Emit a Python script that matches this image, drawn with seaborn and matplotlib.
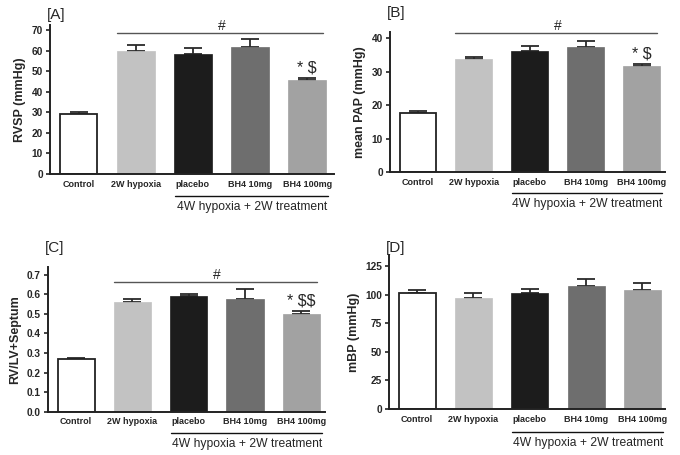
import matplotlib
matplotlib.use("Agg")
import matplotlib.pyplot as plt
import seaborn as sns
import pandas as pd

sns.set_style("white")
plt.rcParams['font.family'] = ['Liberation Sans', 'DejaVu Sans']
plt.rcParams['text.parse_math'] = False

categories = ["Control", "2W hypoxia", "placebo", "BH4 10mg", "BH4 100mg"]
colors = ["#ffffff", "#c2c2c2", "#1c1c1c", "#6e6e6e", "#a2a2a2"]

rvsp = [29.3, 59.8, 58.3, 61.6, 45.6]
rvsp_err = [0.8, 2.9, 2.8, 3.9, 1.3]

pap = [17.8, 33.9, 36.3, 37.3, 31.7]
pap_err = [0.4, 0.6, 1.4, 1.8, 0.7]

rvlv = [0.267, 0.560, 0.588, 0.577, 0.501]
rvlv_err = [0.006, 0.017, 0.014, 0.050, 0.014]

mbp = [101.6, 97.7, 102.1, 108.0, 104.5]
mbp_err = [2.9, 3.9, 3.3, 5.9, 5.9]

panels = [
    dict(label="[A]", ylabel="RVSP (mmHg)", vals=rvsp, errs=rvsp_err,
         yticks=[0, 10, 20, 30, 40, 50, 60, 70], ytl=None, ylim=(0, 72.5),
         pos_px=(50, 174, 284, 149), hash_y=68.5, marks="* $", xlim=(-0.5, 4.47),
         label_y=1.02),
    dict(label="[B]", ylabel="mean PAP (mmHg)", vals=pap, errs=pap_err,
         yticks=[0, 10, 20, 30, 40], ytl=None, ylim=(0, 42),
         pos_px=(390, 172.3, 275, 140.6), hash_y=41.6, marks="* $", xlim=(-0.5, 4.42),
         label_y=1.08),
    dict(label="[C]", ylabel="RV/LV+Septum", vals=rvlv, errs=rvlv_err,
         yticks=[0, 0.1, 0.2, 0.3, 0.4, 0.5, 0.6, 0.7],
         ytl=["0.0", "0.1", "0.2", "0.3", "0.4", "0.5", "0.6", "0.7"], ylim=(0, 0.74),
         pos_px=(48, 411.7, 277, 145), hash_y=0.664, marks="* $$", xlim=(-0.5, 4.42),
         label_y=1.08),
    dict(label="[D]", ylabel="mBP (mmHg)", vals=mbp, errs=mbp_err,
         yticks=[0, 25, 50, 75, 100, 125], ytl=None, ylim=(0, 135),
         pos_px=(389, 409, 276, 154), hash_y=None, marks=None, xlim=(-0.5, 4.4),
         label_y=1.0),
]

W, H = 680, 455
fig = plt.figure(figsize=(6.8, 4.55), dpi=100)

for p in panels:
    left, base, width, height = p["pos_px"]
    ax = fig.add_axes([left / W, (H - base) / H, width / W, height / H])
    df = pd.DataFrame({"group": categories, "value": p["vals"]})
    sns.barplot(data=df, x="group", y="value", hue="group", order=categories,
                hue_order=categories, palette=colors, width=0.66, errorbar=None,
                legend=False, ax=ax, saturation=1)
    for i, bar in enumerate(ax.patches):
        if i == 0:
            bar.set_edgecolor("#222222")
            bar.set_linewidth(1.3)
        else:
            bar.set_edgecolor(colors[i])
            bar.set_linewidth(0.5)
        bar.set_zorder(2)
    ax.errorbar(range(len(categories)), p["vals"],
                yerr=[[0] * len(categories), p["errs"]],
                fmt="none", ecolor="#2a2a2a", elinewidth=1.3, capsize=6.5,
                capthick=1.3, zorder=1)
    ax.set_xlim(*p["xlim"])
    ax.set_ylim(*p["ylim"])
    ax.set_yticks(p["yticks"])
    if p["ytl"]:
        ax.set_yticklabels(p["ytl"])
    ax.set_xlabel("")
    ax.set_ylabel(p["ylabel"], fontsize=9, fontweight="bold", labelpad=4)
    sns.despine(ax=ax)
    for s in ("left", "bottom"):
        ax.spines[s].set_linewidth(1.4)
        ax.spines[s].set_color("#222222")
    ax.tick_params(axis="y", which="major", length=3, width=1.2, labelsize=7.3,
                   pad=2, left=True, color="#222222")
    ax.tick_params(axis="x", length=0, labelsize=6.5, pad=4)
    for t in ax.get_yticklabels() + ax.get_xticklabels():
        t.set_fontweight("bold")
    ax.text(-0.01, p["label_y"], p["label"], transform=ax.transAxes,
            fontsize=11, ha="left", va="bottom")
    # significance bar
    if p["hash_y"] is not None:
        ax.plot([0.67, 4.27], [p["hash_y"]] * 2, color="#555555", lw=1.0,
                clip_on=False)
        ax.text(2.5, p["hash_y"], "#", ha="center", va="bottom", fontsize=10)
        top = p["vals"][4] + p["errs"][4]
        ax.text(4.0, top + p["ylim"][1] * 0.015, p["marks"], ha="center",
                va="bottom", fontsize=11.5)
    # bottom treatment bracket
    ax.plot([1.68, 4.37], [-0.15, -0.15], color="#111111", lw=1.0,
            transform=ax.get_xaxis_transform(), clip_on=False)
    ax.text(3.03, -0.18, "4W hypoxia + 2W treatment", ha="center", va="top",
            fontsize=8.7, transform=ax.get_xaxis_transform())

fig.savefig("out.png", dpi=100)
